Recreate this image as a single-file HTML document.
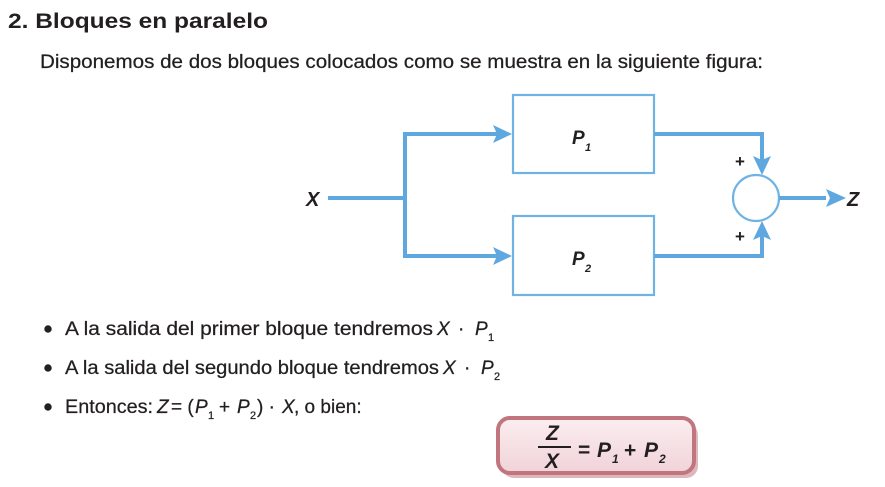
<!DOCTYPE html>
<html><head><meta charset="utf-8"><style>
html,body{margin:0;padding:0;background:#fff;}
svg{display:block;font-family:"Liberation Sans",sans-serif;}
</style></head><body>
<svg width="885" height="487" viewBox="0 0 885 487" xmlns="http://www.w3.org/2000/svg">
<defs>
<linearGradient id="g" x1="0" y1="0" x2="0" y2="1">
<stop offset="0" stop-color="#fbeef0"/><stop offset="1" stop-color="#f0d3d8"/>
</linearGradient>
</defs>
<text x="8" y="28" font-size="21" font-weight="bold" fill="#231f20" textLength="260" lengthAdjust="spacingAndGlyphs">2. Bloques en paralelo</text>
<text x="40" y="68" font-size="19" fill="#231f20" stroke="#231f20" stroke-width="0.25" textLength="723" lengthAdjust="spacingAndGlyphs">Disponemos de dos bloques colocados como se muestra en la siguiente figura:</text>

<g stroke="#5ea8df" fill="none">
<rect x="513" y="95" width="141" height="78" stroke-width="2.2" stroke="#6fb3e4"/>
<rect x="513" y="216" width="141" height="79" stroke-width="2.2" stroke="#6fb3e4"/>
<circle cx="756" cy="198" r="23" stroke-width="2.2" stroke="#6fb3e4"/>
<g stroke-width="4">
<line x1="328" y1="198" x2="405" y2="198"/>
<polyline points="500,134 405,134 405,256 500,256"/>
<polyline points="654,134 762,134 762,160"/>
<polyline points="654,256 762,256 762,236"/>
<line x1="779" y1="198" x2="826" y2="198"/>
</g>
</g>
<g fill="#5ea8df">
<polygon points="512,134 493,125 497,134 493,143"/>
<polygon points="512,256 493,247 497,256 493,265"/>
<polygon points="762,175 753,156 762,160 771,156"/>
<polygon points="762,221 753,240 762,236 771,240"/>
<polygon points="846,198 826,189 830,198 826,207"/>
</g>
<g fill="#231f20" font-weight="bold" font-style="italic">
<text x="306" y="206" font-size="20">X</text>
<text x="847" y="206" font-size="20">Z</text>
<text x="572" y="144" font-size="19">P</text>
<text x="585" y="151" font-size="11">1</text>
<text x="572" y="265" font-size="19">P</text>
<text x="585" y="272" font-size="11">2</text>
</g>
<text x="735" y="167" font-size="17" font-weight="bold" fill="#231f20">+</text>
<text x="735" y="242" font-size="17" font-weight="bold" fill="#231f20">+</text>

<g fill="#231f20" font-size="19" stroke="#231f20" stroke-width="0.25">
<circle cx="48" cy="329" r="3.6"/>
<circle cx="48" cy="368" r="3.6"/>
<circle cx="48" cy="407" r="3.6"/>
<text x="65" y="335" textLength="368" lengthAdjust="spacingAndGlyphs">A la salida del primer bloque tendremos</text>
<text x="437" y="335" font-style="italic">X</text>
<text x="458" y="335">·</text>
<text x="475" y="335" font-style="italic">P</text>
<text x="488" y="341" font-size="11">1</text>
<text x="65" y="374" textLength="374" lengthAdjust="spacingAndGlyphs">A la salida del segundo bloque tendremos</text>
<text x="443" y="374" font-style="italic">X</text>
<text x="464" y="374">·</text>
<text x="481" y="374" font-style="italic">P</text>
<text x="494" y="380" font-size="11">2</text>
<text x="65" y="413" textLength="88" lengthAdjust="spacingAndGlyphs">Entonces:</text>
<text x="157" y="413" font-style="italic">Z</text>
<text x="171" y="413">= (</text>
<text x="195" y="413" font-style="italic">P</text>
<text x="208" y="419" font-size="11">1</text>
<text x="219" y="413">+</text>
<text x="237" y="413" font-style="italic">P</text>
<text x="250" y="419" font-size="11">2</text>
<text x="257" y="413">) ·</text>
<text x="282" y="413" font-style="italic">X</text>
<text x="294" y="413">, o bien:</text>
</g>

<rect x="500" y="420" width="196" height="55" rx="12" fill="#b9727c" opacity="0.5" transform="translate(2,3)"/>
<rect x="498" y="418" width="196" height="55" rx="12" fill="url(#g)" stroke="#c0757f" stroke-width="4"/>
<g fill="#231f20" font-weight="bold" font-style="italic" font-size="21">
<text x="546" y="440">Z</text>
<line x1="538" y1="447" x2="571" y2="447" stroke="#231f20" stroke-width="2"/>
<text x="545" y="468">X</text>
<text x="578" y="457" font-style="normal">=</text>
<text x="597" y="457">P</text>
<text x="612" y="463" font-size="12">1</text>
<text x="624" y="457" font-style="normal">+</text>
<text x="644" y="457">P</text>
<text x="659" y="463" font-size="12">2</text>
</g>
</svg>
</body></html>
